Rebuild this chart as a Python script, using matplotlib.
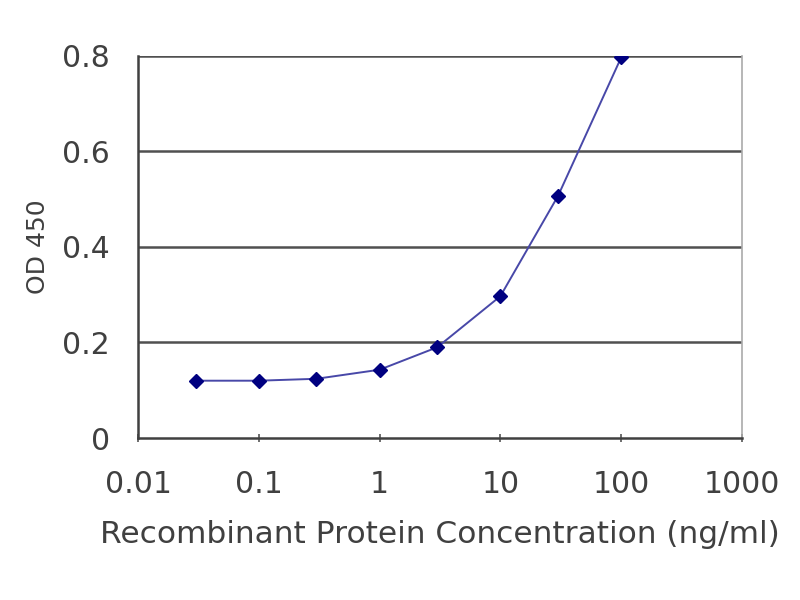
import matplotlib
matplotlib.use("Agg")
import matplotlib.pyplot as plt
from matplotlib.ticker import FixedLocator, FixedFormatter, NullLocator

# concentrations (ng/ml) and OD 450 readings
conc = [0.03, 0.1, 0.3, 1, 3, 10, 30, 100]
od450 = [0.120, 0.120, 0.124, 0.143, 0.190, 0.297, 0.507, 0.797]

x_ticks = [0.01, 0.1, 1, 10, 100, 1000]
x_labels = ["0.01", "0.1", "1", "10", "100", "1000"]
y_ticks = [0, 0.2, 0.4, 0.6, 0.8]
y_labels = ["0", "0.2", "0.4", "0.6", "0.8"]

plt.rcParams['font.family'] = ['DejaVu Sans']

fig = plt.figure(figsize=(8, 6), dpi=100)
ax = fig.add_axes([0.1725, 0.27, 0.755, 0.6367])

txt = '#404040'
fs = 21.5
for y in y_ticks[1:]:
    ax.axhline(y, color='#505050', lw=1.8, zorder=1)

ax.plot(conc, od450, color='#4848a8', lw=1.4, zorder=2)
ax.plot(conc, od450, ls='none', marker='D', ms=7.5, color='#000080', zorder=3)

ax.set_xscale('log')
ax.set_xlim(0.01, 1000)
ax.set_ylim(0, 0.8)
ax.xaxis.set_major_locator(FixedLocator(x_ticks))
ax.xaxis.set_major_formatter(FixedFormatter(x_labels))
ax.xaxis.set_minor_locator(NullLocator())
ax.yaxis.set_major_locator(FixedLocator(y_ticks))
ax.yaxis.set_major_formatter(FixedFormatter(y_labels))

ax.spines['left'].set_color('#404040')
ax.spines['left'].set_linewidth(1.8)
ax.spines['bottom'].set_color('#404040')
ax.spines['bottom'].set_linewidth(1.8)
ax.spines['right'].set_color('#aaaaaa')
ax.spines['right'].set_linewidth(1.2)
ax.spines['top'].set_visible(False)

ax.tick_params(axis='x', direction='inout', length=6, width=1.2, color='#555555',
               labelsize=fs, labelcolor=txt, pad=20)
ax.tick_params(axis='y', length=0, labelsize=fs, labelcolor=txt, pad=20)

ax.set_xlabel("Recombinant Protein Concentration (ng/ml)", fontsize=22.5, color=txt, labelpad=15)
ax.set_ylabel("OD 450", fontsize=18, color=txt, labelpad=9)

fig.savefig("out.png", dpi=100)
